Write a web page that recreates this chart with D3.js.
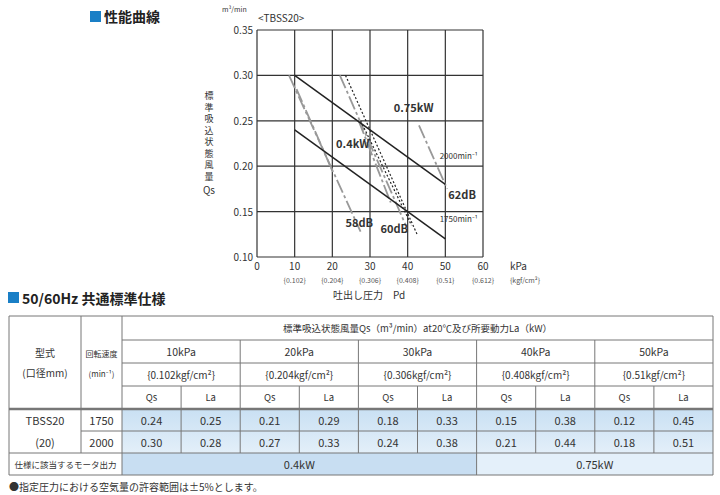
<!DOCTYPE html>
<html><head><meta charset="utf-8">
<script src="https://cdn.jsdelivr.net/npm/d3@7"></script>
<style>body{margin:0;background:#fff}svg{font-family:"Noto Sans CJK JP","Noto Sans",sans-serif}</style>
</head><body><svg id="c" width="720" height="495"></svg>
<script>
// chart data
const xTicks = [0, 10, 20, 30, 40, 50, 60];
const kgfTicks = ["{0.102}", "{0.204}", "{0.306}", "{0.408}", "{0.51}", "{0.612}"];
const yTicks = [0.10, 0.15, 0.20, 0.25, 0.30, 0.35];
const perfLines = [
  [[10, 0.30], [50, 0.18]],
  [[10, 0.24], [50, 0.12]]
];
const noiseGray = [
  [[8.5, 0.30], [27.5, 0.128]],
  [[10.5, 0.285], [20, 0.195]],
  [[22, 0.30], [39.5, 0.135]],
  [[27, 0.25], [35.5, 0.16]],
  [[43, 0.245], [50.5, 0.175]]
];
const noiseDotted = [
  [[23.5, 0.30], [42.5, 0.125]],
  [[27.5, 0.25], [41, 0.135]]
];
const labels = [
  {x: 36.3, y: 0.26, t: "0.75kW", b: true, s: 11},
  {x: 21, y: 0.22, t: "0.4kW", b: true, s: 11},
  {x: 50.8, y: 0.164, t: "62dB", b: true, s: 11},
  {x: 23.5, y: 0.133, t: "58dB", b: true, s: 11},
  {x: 32.8, y: 0.126, t: "60dB", b: true, s: 11},
  {x: 48.5, y: 0.208, t: "2000min⁻¹", b: false, s: 8},
  {x: 48.5, y: 0.138, t: "1750min⁻¹", b: false, s: 8}
];
// table data
const pressures = ["10kPa", "20kPa", "30kPa", "40kPa", "50kPa"];
const kgf = ["{0.102kgf/cm²}", "{0.204kgf/cm²}", "{0.306kgf/cm²}", "{0.408kgf/cm²}", "{0.51kgf/cm²}"];
const rpm = ["1750", "2000"];
const qs1750 = [0.24, 0.21, 0.18, 0.15, 0.12];
const la1750 = [0.25, 0.29, 0.33, 0.38, 0.45];
const qs2000 = [0.30, 0.27, 0.24, 0.21, 0.18];
const la2000 = [0.28, 0.33, 0.38, 0.44, 0.51];

const svg = d3.select("#c");
const blue = "#1a7fc6";

// section titles
svg.append("rect").attr("x", 90).attr("y", 11).attr("width", 11).attr("height", 11).attr("fill", blue);
svg.append("text").attr("x", 104).attr("y", 22).attr("font-size", 14).attr("font-weight", "bold").attr("fill", "#222").text("性能曲線");
svg.append("rect").attr("x", 8).attr("y", 292).attr("width", 11).attr("height", 11).attr("fill", blue);
svg.append("text").attr("x", 22).attr("y", 304).attr("font-size", 14).attr("font-weight", "bold").attr("fill", "#222").text("50/60Hz 共通標準仕様");

// chart
const x = d3.scaleLinear().domain([0, 60]).range([257, 483]);
const y = d3.scaleLinear().domain([0.10, 0.35]).range([257, 30]);
const g = svg.append("g");
g.selectAll(".vg").data(xTicks).join("line")
  .attr("x1", d => x(d)).attr("x2", d => x(d)).attr("y1", y(0.35)).attr("y2", y(0.10))
  .attr("stroke", "#333").attr("stroke-width", 1.2);
g.selectAll(".hg").data(yTicks).join("line")
  .attr("x1", x(0)).attr("x2", x(60)).attr("y1", d => y(d)).attr("y2", d => y(d))
  .attr("stroke", "#333").attr("stroke-width", 1.2);
g.selectAll(".yt").data(yTicks).join("text")
  .attr("x", x(0) - 4).attr("y", d => y(d) + 4).attr("text-anchor", "end")
  .attr("font-size", 10).attr("fill", "#333").text(d => d.toFixed(2));
g.selectAll(".xt").data(xTicks).join("text")
  .attr("x", d => x(d)).attr("y", 270).attr("text-anchor", "middle")
  .attr("font-size", 10).attr("fill", "#333").text(d => d);
g.selectAll(".kt").data(kgfTicks).join("text")
  .attr("x", (d, i) => x((i + 1) * 10)).attr("y", 283).attr("text-anchor", "middle")
  .attr("font-size", 7).attr("fill", "#555").text(d => d);
g.append("text").attr("x", 510).attr("y", 270).attr("font-size", 10).attr("fill", "#333").text("kPa");
g.append("text").attr("x", 510).attr("y", 283).attr("font-size", 7).attr("fill", "#555").text("{kgf/cm²}");
g.append("text").attr("x", 333).attr("y", 299).attr("font-size", 10).attr("fill", "#333").text("吐出し圧力　Pd");
g.append("text").attr("x", 222).attr("y", 12).attr("font-size", 7).attr("fill", "#333").text("m³/min");
g.append("text").attr("x", 258).attr("y", 22).attr("font-size", 10).attr("fill", "#333").text("<TBSS20>");
const vt = "標準吸込状態風量";
g.selectAll(".vl").data(vt.split("")).join("text")
  .attr("x", 209).attr("y", (d, i) => 99 + i * 11.5).attr("text-anchor", "middle")
  .attr("font-size", 9).attr("fill", "#333").text(d => d);
g.append("text").attr("x", 209).attr("y", 194).attr("text-anchor", "middle").attr("font-size", 10).attr("fill", "#333").text("Qs");

const line = d3.line().x(d => x(d[0])).y(d => y(d[1]));
g.selectAll(".ng").data(noiseGray).join("path").attr("d", line)
  .attr("stroke", "#999").attr("stroke-width", 1.8).attr("fill", "none").attr("stroke-dasharray", "14,3,3,3");
g.selectAll(".nd").data(noiseDotted).join("path").attr("d", line)
  .attr("stroke", "#222").attr("stroke-width", 1.2).attr("fill", "none").attr("stroke-dasharray", "2,2");
g.selectAll(".pl").data(perfLines).join("path").attr("d", line)
  .attr("stroke", "#222").attr("stroke-width", 1.5).attr("fill", "none");
g.selectAll(".lb").data(labels).join("text")
  .attr("x", d => x(d.x)).attr("y", d => y(d.y))
  .attr("font-size", d => d.s).attr("font-weight", d => d.b ? "bold" : "normal")
  .attr("fill", "#333").text(d => d.t);

// table
const T = svg.append("g").attr("font-size", 10).attr("fill", "#333");
const L = 9, R = 713, c1 = 81, c2 = 122;
const gw = (R - c2) / 5;
const rows = [316, 340, 363, 386, 409, 431, 453, 475];
const cellX = i => c2 + i * gw / 2;
const grad = svg.append("defs").append("linearGradient").attr("id", "bg").attr("x1", 0).attr("x2", 0).attr("y1", 0).attr("y2", 1);
grad.append("stop").attr("offset", 0).attr("stop-color", "#c9e0f3");
grad.append("stop").attr("offset", 1).attr("stop-color", "#e3eff9");
T.append("rect").attr("x", c2).attr("y", rows[4]).attr("width", R - c2).attr("height", rows[6] - rows[4]).attr("fill", "url(#bg)");
T.append("rect").attr("x", c2).attr("y", rows[6]).attr("width", cellX(6) - c2).attr("height", rows[7] - rows[6]).attr("fill", "#c8def2");
T.append("rect").attr("x", cellX(6)).attr("y", rows[6]).attr("width", R - cellX(6)).attr("height", rows[7] - rows[6]).attr("fill", "#e4f0fa");
const ln = (x1, y1, x2, y2, w) => T.append("line").attr("x1", x1).attr("y1", y1).attr("x2", x2).attr("y2", y2).attr("stroke", "#777").attr("stroke-width", w || 1);
ln(L, rows[0], R, rows[0]); ln(c2, rows[1], R, rows[1]); ln(c2, rows[2], R, rows[2]); ln(c2, rows[3], R, rows[3]);
ln(L, rows[4], R, rows[4], 2.5); ln(c1, rows[5], R, rows[5]); ln(L, rows[6], R, rows[6]); ln(L, rows[7], R, rows[7]);
ln(L, rows[0], L, rows[7]); ln(R, rows[0], R, rows[7]); ln(c1, rows[0], c1, rows[6]); ln(c2, rows[0], c2, rows[7]);
d3.range(1, 5).forEach(i => ln(c2 + i * gw, rows[1], c2 + i * gw, rows[6]));
d3.range(5).forEach(i => ln(c2 + i * gw + gw / 2, rows[3], c2 + i * gw + gw / 2, rows[6]));
ln(cellX(6), rows[6], cellX(6), rows[7]);
const tx = (px, py, t, s) => T.append("text").attr("x", px).attr("y", py).attr("text-anchor", "middle").attr("font-size", s || 10).text(t);
tx((c2 + R) / 2, 332, "標準吸込状態風量Qs（m³/min）at20℃及び所要動力La（kW）", 9.5);
pressures.forEach((p, i) => tx(c2 + i * gw + gw / 2, 356, p, 10.5));
kgf.forEach((p, i) => tx(c2 + i * gw + gw / 2, 379, p, 10));
pressures.forEach((p, i) => { tx(cellX(2 * i) + gw / 4, 401, "Qs", 9.5); tx(cellX(2 * i + 1) + gw / 4, 401, "La", 9.5); });
[[qs1750, la1750], [qs2000, la2000]].forEach(([q, l], r) => {
  q.forEach((v, i) => {
    tx(cellX(2 * i) + gw / 4, rows[4 + r] + 16, v.toFixed(2), 11);
    tx(cellX(2 * i + 1) + gw / 4, rows[4 + r] + 16, l[i].toFixed(2), 11);
  });
  tx((c1 + c2) / 2, rows[4 + r] + 16, rpm[r], 11);
});
tx((L + c1) / 2, 377, "(口径mm)", 10); tx((L + c1) / 2, 357, "型式", 10);
tx((c2 + c1) / 2, 357, "回転速度", 8); tx((c2 + c1) / 2, 377, "(min⁻¹)", 8);
tx((L + c1) / 2, 425, "TBSS20", 11); tx((L + c1) / 2, 447, "(20)", 11);
tx((L + c2) / 2, 468, "仕様に該当するモータ出力", 8.5);
tx((c2 + cellX(6)) / 2, 469, "0.4kW", 11); tx((cellX(6) + R) / 2, 469, "0.75kW", 11);
T.append("text").attr("x", 9).attr("y", 491).attr("font-size", 10).text("●指定圧力における空気量の許容範囲は±5%とします。");
</script></body></html>
